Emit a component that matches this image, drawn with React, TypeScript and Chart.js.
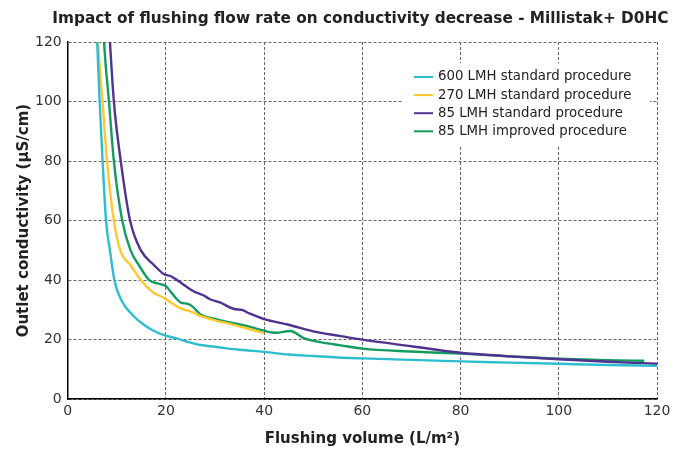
import { useEffect, useRef } from 'react';
import { Chart, registerables } from 'chart.js';

Chart.register(...registerables);

const chartTitle = 'Impact of flushing flow rate on conductivity decrease - Millistak+ D0HC';
const xAxisTitle = 'Flushing volume (L/m²)';
const yAxisTitle = 'Outlet conductivity (µS/cm)';
const xTicks = [0, 20, 40, 60, 80, 100, 120];
const yTicks = [0, 20, 40, 60, 80, 100, 120];

const seriesLabels = [
  '600 LMH standard procedure',
  '270 LMH standard procedure',
  '85 LMH standard procedure',
  '85 LMH improved procedure',
];
const seriesColors = ['#2DBECD', '#FFC832', '#503291', '#149B5F'];

const lmh600X = [5.7, 6.0, 6.5, 7.1, 7.8, 8.6, 9.5, 11, 13.2, 15.5, 17.5, 19.6, 22, 25, 27, 30, 35, 40, 45, 50, 55, 60, 70, 80, 90, 100, 110, 120];
const lmh600Y = [135, 120, 100, 80, 60, 50, 40, 33, 28.3, 25, 23, 21.5, 20.5, 19, 18.2, 17.6, 16.6, 15.9, 15, 14.5, 14, 13.7, 13.2, 12.7, 12.3, 11.9, 11.5, 11.2];

const lmh270X = [5.9, 6.2, 7.1, 8.0, 9.4, 10.7, 12.8, 14.9, 17.3, 19.6, 21, 23, 25, 27, 30, 33, 36, 40];
const lmh270Y = [135, 120, 100, 80, 60, 50, 45, 40, 36, 34, 32.5, 30.5, 29.5, 28, 26.5, 25.3, 24, 22.2];

const lmh85StdX = [8.1, 8.6, 9.4, 10.8, 12.7, 14.9, 17.6, 19.6, 21, 22.3, 24, 25.7, 27.5, 29.1, 31, 33.9, 35.5, 37, 40, 45, 50, 55.6, 60, 70, 80, 90, 100, 110, 120];
const lmh85StdY = [135, 120, 100, 80, 60, 50, 45, 42, 41.3, 40, 38, 36.2, 35, 33.5, 32.5, 30.3, 30, 28.8, 26.9, 25, 22.8, 21.2, 20, 17.8, 15.6, 14.4, 13.4, 12.6, 11.9];

const lmh85ImpX = [7.0, 7.4, 8.4, 9.4, 11.1, 12.8, 14.5, 16.6, 18.5, 20, 21, 22, 23, 24.5, 25.5, 27, 30, 33, 36, 40, 42.4, 45.3, 48.2, 52, 55.6, 60, 70, 80, 90, 100, 110, 117.4];
const lmh85ImpY = [135, 120, 100, 80, 60, 50, 45, 40, 38.8, 38, 36, 34, 32.5, 32, 31, 28.5, 27, 25.8, 24.8, 23, 22.3, 22.9, 20.4, 19, 18.1, 17, 16, 15.3, 14.4, 13.6, 13.1, 12.9];

const seriesX = [lmh600X, lmh270X, lmh85StdX, lmh85ImpX];
const seriesY = [lmh600Y, lmh270Y, lmh85StdY, lmh85ImpY];

const FONT = "'DejaVu Sans', Verdana, sans-serif";

const centeredTitle = {
  id: 'centeredTitle',
  afterDraw(chart: any) {
    const { ctx, chartArea } = chart;
    ctx.save();
    ctx.font = `bold 15.3px ${FONT}`;
    ctx.fillStyle = '#222';
    ctx.textAlign = 'center';
    ctx.textBaseline = 'middle';
    ctx.fillText(chartTitle, (chartArea.left + chartArea.right) / 2 - 2, chartArea.top - 23);
    ctx.restore();
  },
};

const insideLegend = {
  id: 'insideLegend',
  afterDraw(chart: any) {
    const { ctx, chartArea } = chart;
    const x0 = chartArea.right - 243;
    const y0 = chartArea.top + 35;
    ctx.save();
    ctx.fillStyle = '#ffffff';
    ctx.fillRect(x0 - 12, y0 - 14, 248, 84);
    ctx.font = `13.3px ${FONT}`;
    ctx.textBaseline = 'middle';
    ctx.textAlign = 'left';
    chart.data.datasets.forEach((ds: any, i: number) => {
      const y = y0 + i * 18.1;
      ctx.strokeStyle = ds.borderColor;
      ctx.lineWidth = 2;
      ctx.beginPath();
      ctx.moveTo(x0, y);
      ctx.lineTo(x0 + 19, y);
      ctx.stroke();
      ctx.fillStyle = '#222';
      ctx.fillText(ds.label, x0 + 24, y);
    });
    ctx.restore();
  },
};

export default function App() {
  const ref = useRef<HTMLCanvasElement | null>(null);
  useEffect(() => {
    if (!ref.current) return;
    const datasets = seriesLabels.map((label, i) => ({
      label,
      data: seriesX[i].map((x, j) => ({ x, y: seriesY[i][j] })),
      borderColor: seriesColors[i],
      backgroundColor: seriesColors[i],
      borderWidth: 2.4,
      pointRadius: 0,
      tension: 0.35,
      cubicInterpolationMode: 'monotone' as const,
      fill: false,
    }));
    const chart = new Chart(ref.current, {
      type: 'line',
      data: { datasets },
      plugins: [centeredTitle, insideLegend],
      options: {
        responsive: false,
        animation: false,
        layout: { padding: { left: 15, right: 27, top: 42, bottom: 0 } },
        plugins: {
          legend: { display: false },
          tooltip: { enabled: false },
          title: { display: false },
        },
        scales: {
          x: {
            type: 'linear',
            min: 0,
            max: 120,
            afterBuildTicks: (axis: any) => {
              axis.ticks = xTicks.map((v) => ({ value: v }));
            },
            ticks: { color: '#333', font: { family: FONT, size: 14 }, padding: 4 },
            grid: { color: '#666', drawTicks: false, lineWidth: 1 },
            border: { display: true, color: '#000', width: 1.5, dash: [3, 2] },
            title: {
              display: true,
              text: xAxisTitle,
              color: '#222',
              font: { family: FONT, size: 15, weight: 'bold' },
              padding: { top: 6, bottom: 1 },
            },
          },
          y: {
            type: 'linear',
            min: 0,
            max: 120,
            afterBuildTicks: (axis: any) => {
              axis.ticks = yTicks.map((v) => ({ value: v }));
            },
            ticks: { color: '#333', font: { family: FONT, size: 14 }, padding: 6 },
            grid: { color: '#666', drawTicks: false, lineWidth: 1 },
            border: { display: true, color: '#000', width: 1.5, dash: [3, 2] },
            title: {
              display: true,
              text: yAxisTitle,
              color: '#222',
              font: { family: FONT, size: 15, weight: 'bold' },
              padding: { top: 0, bottom: -4 },
            },
          },
        },
      },
    });
    return () => chart.destroy();
  }, []);
  return (
    <div style={{ position: 'fixed', left: 0, top: 0, width: 684, height: 449 }}>
      <canvas ref={ref} width={684} height={449} style={{ width: 684, height: 449 }} />
    </div>
  );
}
